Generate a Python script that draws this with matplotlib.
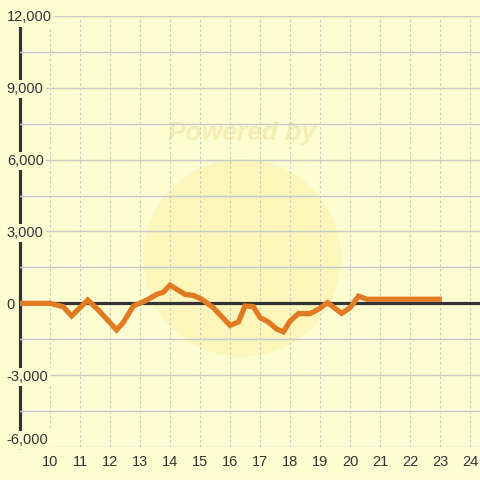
import matplotlib
matplotlib.use('Agg')
import matplotlib.pyplot as plt
from matplotlib.patches import Circle

plt.rcParams['font.family'] = ['Liberation Sans', 'DejaVu Sans']

# hours of the day vs. value
hours = [9.0, 10.0, 10.44, 10.72, 11.26, 11.61, 12.22, 12.44, 12.78, 13.17, 13.56, 13.78,
         14.0, 14.5, 14.78, 15.06, 15.44, 16.0, 16.28, 16.5, 16.78, 17.0, 17.28, 17.56,
         17.78, 18.0, 18.28, 18.67, 18.94, 19.25, 19.72, 20.0, 20.28, 20.56, 23.06]
values = [0, 0, -140, -530, 140, -280, -1110, -800, -110, 100, 375, 470,
          760, 375, 330, 170, -180, -920, -780, -110, -140, -600, -780, -1080,
          -1190, -740, -430, -430, -250, 30, -420, -180, 300, 170, 170]

x_ticks = list(range(10, 25))
y_ticks = [-6000, -3000, 0, 3000, 6000, 9000, 12000]
y_labels = ['-6,000', '-3,000', '0', '3,000', '6,000', '9,000', '12,000']
y_minor = [-4500, -1500, 1500, 4500, 7500, 10500]

bg = '#FDFDD2'
dark = '#333333'
grid_col = '#C8C8CC'

fig = plt.figure(figsize=(4.8, 4.8), dpi=100)
fig.patch.set_facecolor(bg)
ax = fig.add_axes([20 / 480, 33 / 480, 460 / 480, 431 / 480])
ax.set_facecolor(bg)

# faint watermark
ax.add_patch(Circle((0.504, 0.4625), 0.206, transform=fig.transFigure,
                    facecolor='#FCEFA0', alpha=0.45, edgecolor='none', zorder=0.3,
                    clip_on=False))
ax.text(0.504, 1 - 133 / 480, 'Powered by', transform=fig.transFigure,
        ha='center', va='center', fontsize=19, fontweight='bold',
        fontstyle='italic', color='#F4ECB2', zorder=0.4)

ax.set_xlim(9.0, 24.33)
ax.set_ylim(-6000, 12000)

ax.set_axisbelow(False)
for s in ax.spines.values():
    s.set_visible(False)

ax.set_xticks(x_ticks)
ax.set_yticks(y_ticks)
ax.set_yticklabels(y_labels)
ax.set_yticks(y_minor, minor=True)
ax.tick_params(axis='both', which='both', length=0, colors=dark, labelsize=10.5)
ax.tick_params(axis='x', pad=6)
ax.tick_params(axis='y', which='major', pad=9.5)
for lbl in ax.get_yticklabels():
    lbl.set_horizontalalignment('left')
    lbl.set_bbox(dict(facecolor=bg, edgecolor='none', pad=1.5))
ax.get_yticklabels()[0].set_verticalalignment('bottom')

ax.grid(axis='y', which='both', color=grid_col, linewidth=1.0)
ax.grid(axis='x', which='major', color=grid_col, linewidth=0.8, linestyle=(0, (2.2, 2.2)))

ax.axvline(9.0, color=dark, linewidth=2.3, zorder=2, clip_on=False)
ax.axhline(0, color=dark, linewidth=2.3, zorder=2.6)

ax.plot(hours, values, color='#E07B24', linewidth=3.8, zorder=3,
        solid_joinstyle='miter', solid_capstyle='butt')

fig.savefig('out.png', dpi=100, facecolor=bg)
